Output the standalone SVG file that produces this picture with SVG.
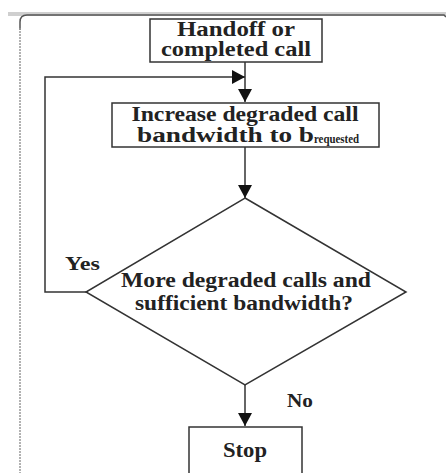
<svg xmlns="http://www.w3.org/2000/svg" width="446" height="473" viewBox="0 0 446 473">
<defs>
<marker id="arrd" markerWidth="13" markerHeight="14" refX="13" refY="7" orient="auto" markerUnits="userSpaceOnUse" viewBox="0 0 13 14">
<path d="M0,0 L13,7 L0,14 Z" fill="#111"/>
</marker>
</defs>
<style>
.box{fill:#fff;stroke:#333;stroke-width:1.5}
.ln{fill:none;stroke:#333;stroke-width:1.5}
.t{font-family:"Liberation Serif","Times New Roman",serif;font-weight:bold;font-size:20px;fill:#222;text-anchor:middle}
.lbl{font-family:"Liberation Serif","Times New Roman",serif;font-weight:bold;font-size:19px;fill:#222}
</style>
<rect width="446" height="473" fill="#fff"/>
<g id="frame">
<rect x="8" y="12" width="438" height="4" fill="#cfcfcf"/>
<path d="M20,30 V22 Q20,15 27,15 H444 L446,17" fill="none" stroke="#555" stroke-width="1.5"/>
<line x1="20" y1="28" x2="20" y2="473" stroke="#999" stroke-width="1.5" stroke-dasharray="2 1"/>
</g>
<g id="connectors">
<line class="ln" x1="245" y1="62" x2="245" y2="102" marker-end="url(#arrd)"/>
<polyline class="ln" points="86,292 45,292 45,77 245,77" marker-end="url(#arrd)"/>
<line class="ln" x1="245" y1="147" x2="245" y2="198" marker-end="url(#arrd)"/>
<line class="ln" x1="245" y1="385" x2="245" y2="426" marker-end="url(#arrd)"/>
<text class="lbl" x="65" y="270" textLength="35" lengthAdjust="spacingAndGlyphs">Yes</text>
<text class="lbl" x="287" y="407" textLength="26" lengthAdjust="spacingAndGlyphs">No</text>
</g>
<g id="start">
<rect class="box" x="150" y="19" width="172" height="43"/>
<text class="t" x="236" y="36" textLength="118" lengthAdjust="spacingAndGlyphs">Handoff or</text>
<text class="t" x="236" y="56" textLength="150" lengthAdjust="spacingAndGlyphs">completed call</text>
</g>
<g id="increase">
<rect class="box" x="112" y="103" width="267" height="44"/>
<text class="t" x="245" y="121" textLength="227" lengthAdjust="spacingAndGlyphs">Increase degraded call</text>
<text x="137" y="142" class="lbl" style="font-size:20px">
<tspan textLength="177" lengthAdjust="spacingAndGlyphs">bandwidth to b</tspan><tspan font-size="12" dy="1" textLength="45" lengthAdjust="spacingAndGlyphs">requested</tspan>
</text>
</g>
<g id="decision">
<polygon class="box" points="245,198 406,292 245,385 86,292"/>
<text class="t" x="246" y="287" textLength="250" lengthAdjust="spacingAndGlyphs">More degraded calls and</text>
<text class="t" x="244" y="310" textLength="218" lengthAdjust="spacingAndGlyphs">sufficient bandwidth?</text>
</g>
<g id="stop">
<rect class="box" x="189" y="427" width="113" height="60"/>
<text class="t" x="245" y="457" textLength="44" lengthAdjust="spacingAndGlyphs">Stop</text>
</g>
</svg>
